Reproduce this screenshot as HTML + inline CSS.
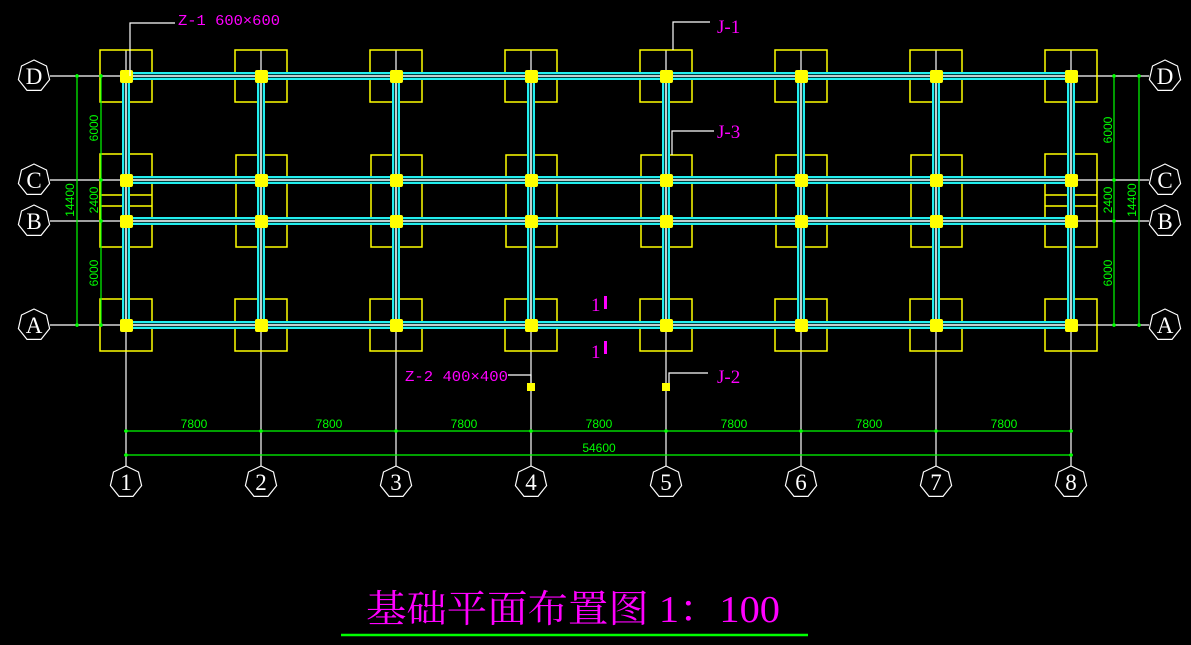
<!DOCTYPE html>
<html><head><meta charset="utf-8"><style>
html,body{margin:0;padding:0;background:#000;width:1191px;height:645px;overflow:hidden}
svg{display:block}
.ax{stroke:#fff;stroke-width:1.2;fill:none}
.fb{stroke:#ff0;stroke-width:1.5;fill:none}
.bc{stroke:#2ee;stroke-width:8}
.bk{stroke:#003c3c;stroke-width:4}
.bw{stroke:#fff;stroke-width:1.5}
.dm{stroke:#0f0;stroke-width:1.2;fill:none}
.dt{fill:#0f0;font-family:"Liberation Sans",sans-serif;font-size:12px}
.bub{fill:none;stroke:#fff;stroke-width:1.2}
.bt{fill:#fff;font-family:"Liberation Serif",serif;font-size:23px;text-anchor:middle}
.mg{fill:#f0f;font-family:"Liberation Mono",monospace;font-size:15px}
.mgs{fill:#f0f;font-family:"Liberation Serif",serif;font-size:19px}
.col{fill:#ff0}
</style></head><body>
<svg width="1191" height="645" viewBox="0 0 1191 645">
<defs>
<polygon id="oct" points="0,-16 12.5,-10 15.6,3.6 7,14.4 -7,14.4 -15.6,3.6 -12.5,-10"/>
</defs>
<g class="ax">
<line x1="126" y1="50" x2="126" y2="466"/><line x1="261" y1="50" x2="261" y2="466"/>
<line x1="396" y1="50" x2="396" y2="466"/><line x1="531" y1="50" x2="531" y2="466"/>
<line x1="666" y1="50" x2="666" y2="466"/><line x1="801" y1="50" x2="801" y2="466"/>
<line x1="936" y1="50" x2="936" y2="466"/><line x1="1071" y1="50" x2="1071" y2="466"/>
<line x1="50" y1="76" x2="126" y2="76"/><line x1="50" y1="180" x2="126" y2="180"/>
<line x1="50" y1="221" x2="126" y2="221"/><line x1="50" y1="325" x2="126" y2="325"/>
<line x1="1071" y1="76" x2="1149" y2="76"/><line x1="1071" y1="180" x2="1149" y2="180"/>
<line x1="1071" y1="221" x2="1149" y2="221"/><line x1="1071" y1="325" x2="1149" y2="325"/>
</g>
<g class="fb">
<rect x="100" y="50" width="52" height="52"/><rect x="235" y="50" width="52" height="52"/><rect x="370" y="50" width="52" height="52"/><rect x="505" y="50" width="52" height="52"/><rect x="640" y="50" width="52" height="52"/><rect x="775" y="50" width="52" height="52"/><rect x="910" y="50" width="52" height="52"/><rect x="1045" y="50" width="52" height="52"/>
<rect x="100" y="154" width="52" height="93"/><rect x="236" y="155" width="51" height="92"/><rect x="371" y="155" width="51" height="92"/><rect x="506" y="155" width="51" height="92"/><rect x="641" y="155" width="51" height="92"/><rect x="776" y="155" width="51" height="92"/><rect x="911" y="155" width="51" height="92"/><rect x="1045" y="154" width="52" height="93"/>
<line x1="100" y1="195" x2="152" y2="195"/><line x1="100" y1="206" x2="152" y2="206"/>
<line x1="1045" y1="195" x2="1097" y2="195"/><line x1="1045" y1="206" x2="1097" y2="206"/>
<rect x="100" y="299" width="52" height="52"/><rect x="235" y="299" width="52" height="52"/><rect x="370" y="299" width="52" height="52"/><rect x="505" y="299" width="52" height="52"/><rect x="640" y="299" width="52" height="52"/><rect x="775" y="299" width="52" height="52"/><rect x="910" y="299" width="52" height="52"/><rect x="1045" y="299" width="52" height="52"/>
</g>
<g class="bc">
<line x1="126" y1="76" x2="1071" y2="76"/><line x1="126" y1="180" x2="1071" y2="180"/><line x1="126" y1="221" x2="1071" y2="221"/><line x1="126" y1="325" x2="1071" y2="325"/>
<line x1="126" y1="76" x2="126" y2="325"/><line x1="261" y1="76" x2="261" y2="325"/><line x1="396" y1="76" x2="396" y2="325"/><line x1="531" y1="76" x2="531" y2="325"/><line x1="666" y1="76" x2="666" y2="325"/><line x1="801" y1="76" x2="801" y2="325"/><line x1="936" y1="76" x2="936" y2="325"/><line x1="1071" y1="76" x2="1071" y2="325"/>
</g>
<g class="bk">
<line x1="126" y1="76" x2="1071" y2="76"/><line x1="126" y1="180" x2="1071" y2="180"/><line x1="126" y1="221" x2="1071" y2="221"/><line x1="126" y1="325" x2="1071" y2="325"/>
<line x1="126" y1="76" x2="126" y2="325"/><line x1="261" y1="76" x2="261" y2="325"/><line x1="396" y1="76" x2="396" y2="325"/><line x1="531" y1="76" x2="531" y2="325"/><line x1="666" y1="76" x2="666" y2="325"/><line x1="801" y1="76" x2="801" y2="325"/><line x1="936" y1="76" x2="936" y2="325"/><line x1="1071" y1="76" x2="1071" y2="325"/>
</g>
<g class="bw">
<line x1="126" y1="76" x2="1071" y2="76"/><line x1="126" y1="180" x2="1071" y2="180"/><line x1="126" y1="221" x2="1071" y2="221"/><line x1="126" y1="325" x2="1071" y2="325"/>
<line x1="126" y1="76" x2="126" y2="325"/><line x1="261" y1="76" x2="261" y2="325"/><line x1="396" y1="76" x2="396" y2="325"/><line x1="531" y1="76" x2="531" y2="325"/><line x1="666" y1="76" x2="666" y2="325"/><line x1="801" y1="76" x2="801" y2="325"/><line x1="936" y1="76" x2="936" y2="325"/><line x1="1071" y1="76" x2="1071" y2="325"/>
</g>
<g class="col">
<rect x="120" y="70" width="13" height="13" rx="2"/><rect x="255" y="70" width="13" height="13" rx="2"/><rect x="390" y="70" width="13" height="13" rx="2"/><rect x="525" y="70" width="13" height="13" rx="2"/><rect x="660" y="70" width="13" height="13" rx="2"/><rect x="795" y="70" width="13" height="13" rx="2"/><rect x="930" y="70" width="13" height="13" rx="2"/><rect x="1065" y="70" width="13" height="13" rx="2"/>
<rect x="120" y="174" width="13" height="13" rx="2"/><rect x="255" y="174" width="13" height="13" rx="2"/><rect x="390" y="174" width="13" height="13" rx="2"/><rect x="525" y="174" width="13" height="13" rx="2"/><rect x="660" y="174" width="13" height="13" rx="2"/><rect x="795" y="174" width="13" height="13" rx="2"/><rect x="930" y="174" width="13" height="13" rx="2"/><rect x="1065" y="174" width="13" height="13" rx="2"/>
<rect x="120" y="215" width="13" height="13" rx="2"/><rect x="255" y="215" width="13" height="13" rx="2"/><rect x="390" y="215" width="13" height="13" rx="2"/><rect x="525" y="215" width="13" height="13" rx="2"/><rect x="660" y="215" width="13" height="13" rx="2"/><rect x="795" y="215" width="13" height="13" rx="2"/><rect x="930" y="215" width="13" height="13" rx="2"/><rect x="1065" y="215" width="13" height="13" rx="2"/>
<rect x="120" y="319" width="13" height="13" rx="2"/><rect x="255" y="319" width="13" height="13" rx="2"/><rect x="390" y="319" width="13" height="13" rx="2"/><rect x="525" y="319" width="13" height="13" rx="2"/><rect x="660" y="319" width="13" height="13" rx="2"/><rect x="795" y="319" width="13" height="13" rx="2"/><rect x="930" y="319" width="13" height="13" rx="2"/><rect x="1065" y="319" width="13" height="13" rx="2"/>
<rect x="527" y="383" width="8" height="8"/><rect x="662" y="383" width="8" height="8"/>
</g>
<g class="dm">
<line x1="77" y1="74" x2="77" y2="327"/><line x1="101" y1="74" x2="101" y2="327"/>
<line x1="1114" y1="74" x2="1114" y2="327"/><line x1="1139" y1="74" x2="1139" y2="327"/>
<line x1="124" y1="431" x2="1073" y2="431"/><line x1="124" y1="455" x2="1073" y2="455"/>
</g>
<g fill="#0f0">
<circle cx="77" cy="76" r="1.8"/><circle cx="77" cy="325" r="1.8"/><circle cx="101" cy="76" r="1.8"/><circle cx="101" cy="180" r="1.8"/><circle cx="101" cy="221" r="1.8"/><circle cx="101" cy="325" r="1.8"/>
<circle cx="1139" cy="76" r="1.8"/><circle cx="1139" cy="325" r="1.8"/><circle cx="1114" cy="76" r="1.8"/><circle cx="1114" cy="180" r="1.8"/><circle cx="1114" cy="221" r="1.8"/><circle cx="1114" cy="325" r="1.8"/>
<circle cx="126" cy="431" r="1.8"/><circle cx="261" cy="431" r="1.8"/><circle cx="396" cy="431" r="1.8"/><circle cx="531" cy="431" r="1.8"/><circle cx="666" cy="431" r="1.8"/><circle cx="801" cy="431" r="1.8"/><circle cx="936" cy="431" r="1.8"/><circle cx="1071" cy="431" r="1.8"/>
<circle cx="126" cy="455" r="1.8"/><circle cx="1071" cy="455" r="1.8"/>
</g>
<g class="dt">
<text x="98" y="128" transform="rotate(-90 98 128)" text-anchor="middle">6000</text>
<text x="98" y="200" transform="rotate(-90 98 200)" text-anchor="middle">2400</text>
<text x="74" y="200" transform="rotate(-90 74 200)" text-anchor="middle">14400</text>
<text x="98" y="273" transform="rotate(-90 98 273)" text-anchor="middle">6000</text>
<text x="1112" y="130" transform="rotate(-90 1112 130)" text-anchor="middle">6000</text>
<text x="1112" y="200" transform="rotate(-90 1112 200)" text-anchor="middle">2400</text>
<text x="1136" y="200" transform="rotate(-90 1136 200)" text-anchor="middle">14400</text>
<text x="1112" y="273" transform="rotate(-90 1112 273)" text-anchor="middle">6000</text>
<g text-anchor="middle">
<text x="194" y="428">7800</text><text x="329" y="428">7800</text><text x="464" y="428">7800</text><text x="599" y="428">7800</text><text x="734" y="428">7800</text><text x="869" y="428">7800</text><text x="1004" y="428">7800</text>
<text x="599" y="452">54600</text>
</g>
</g>
<g class="bub">
<use href="#oct" x="34" y="76"/><use href="#oct" x="34" y="180"/><use href="#oct" x="34" y="221"/><use href="#oct" x="34" y="325"/>
<use href="#oct" x="1165" y="76"/><use href="#oct" x="1165" y="180"/><use href="#oct" x="1165" y="221"/><use href="#oct" x="1165" y="325"/>
<use href="#oct" x="126" y="482"/><use href="#oct" x="261" y="482"/><use href="#oct" x="396" y="482"/><use href="#oct" x="531" y="482"/><use href="#oct" x="666" y="482"/><use href="#oct" x="801" y="482"/><use href="#oct" x="936" y="482"/><use href="#oct" x="1071" y="482"/>
</g>
<g class="bt">
<text x="34" y="84">D</text><text x="34" y="188">C</text><text x="34" y="229">B</text><text x="34" y="333">A</text>
<text x="1165" y="84">D</text><text x="1165" y="188">C</text><text x="1165" y="229">B</text><text x="1165" y="333">A</text>
<text x="126" y="490">1</text><text x="261" y="490">2</text><text x="396" y="490">3</text><text x="531" y="490">4</text><text x="666" y="490">5</text><text x="801" y="490">6</text><text x="936" y="490">7</text><text x="1071" y="490">8</text>
</g>
<g class="ax">
<polyline points="130,76 130,23 175,23"/>
<polyline points="673,50 673,22 710,22"/>
<polyline points="672,155 672,131 714,131"/>
<polyline points="669,383 669,373 708,373"/>
<polyline points="508,375 531,375 531,383"/>
</g>
<text class="mg" x="178" y="25" textLength="102" lengthAdjust="spacingAndGlyphs">Z-1 600×600</text>
<text class="mg" x="405" y="381" textLength="103" lengthAdjust="spacingAndGlyphs">Z-2 400×400</text>
<text class="mgs" x="717" y="33">J-1</text>
<text class="mgs" x="717" y="138">J-3</text>
<text class="mgs" x="717" y="383">J-2</text>
<text class="mgs" x="591" y="311">1</text><rect x="604" y="296" width="3" height="13" fill="#f0f"/>
<text class="mgs" x="591" y="358">1</text><rect x="604" y="341" width="3" height="13" fill="#f0f"/>
<text x="366" y="622" fill="#f0f" font-family="'Liberation Serif','Noto Serif CJK SC',serif" font-size="38" textLength="414" lengthAdjust="spacingAndGlyphs">基础平面布置图 1：100</text>
<line x1="341" y1="635" x2="808" y2="635" stroke="#0f0" stroke-width="2.5"/>
</svg>
</body></html>
